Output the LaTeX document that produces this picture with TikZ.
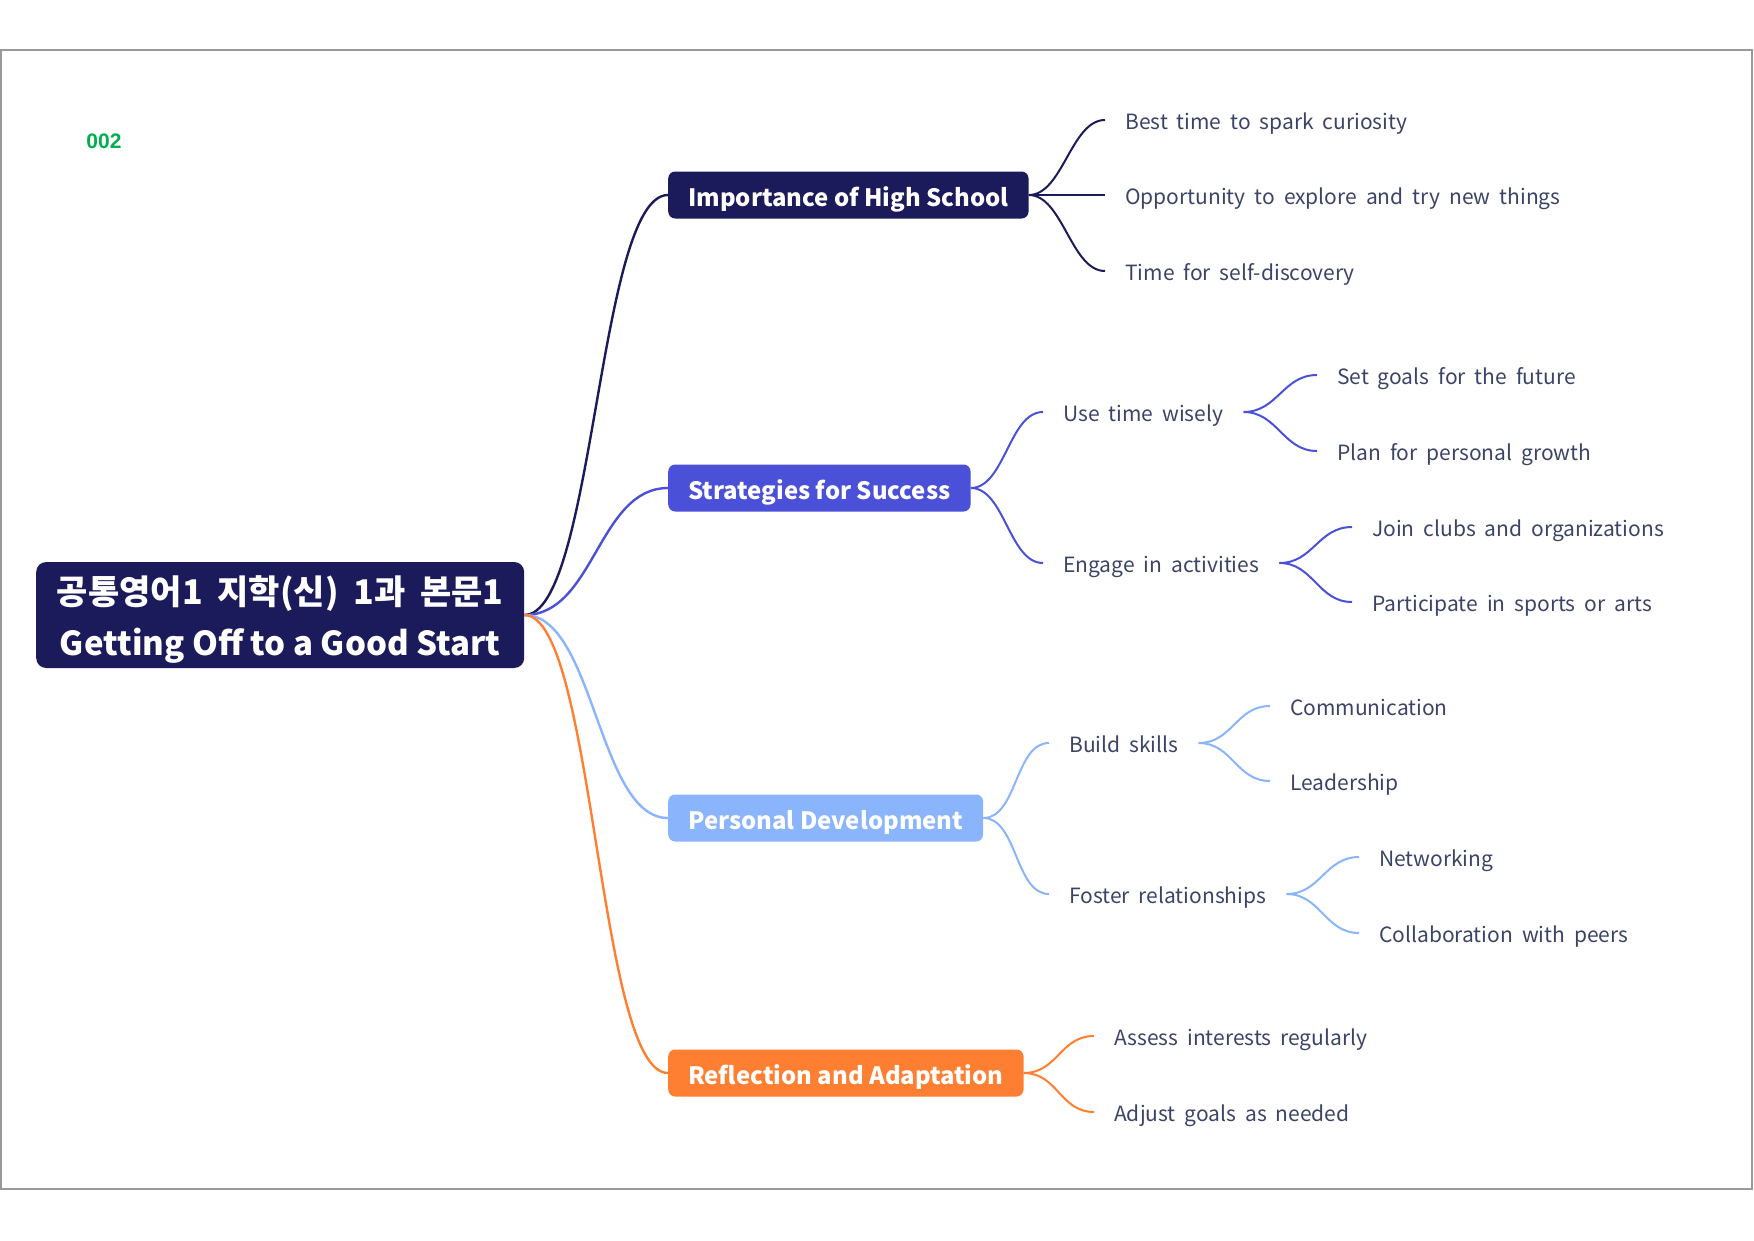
\documentclass[tikz,border=0pt]{standalone}
\usepackage{fontspec}
\setmainfont{Noto Sans CJK KR}
\newfontfamily\leaffont{Noto Sans CJK KR}[WordSpace=1.4]
\newfontfamily\korfont{Noto Sans CJK KR}[WordSpace=1.9]
\newfontfamily\tagfont{Liberation Sans}
\usepackage{xcolor}
\definecolor{navy}{HTML}{1B1A5A}
\definecolor{indigo}{HTML}{4A50D8}
\definecolor{sky}{HTML}{8AB4FC}
\definecolor{tangerine}{HTML}{FF7F32}
\definecolor{slate}{HTML}{3B4466}
\definecolor{taggreen}{HTML}{00B050}

\begin{document}
\begin{tikzpicture}[x=1pt,y=-1pt,
  topic/.style={rounded corners=7pt,text=white,font=\bfseries\fontsize{23.9}{28}\selectfont,
    minimum height=47pt,inner xsep=20pt,text height=22pt,text depth=0pt,anchor=west},
  leaf/.style={text=slate,font=\leaffont\fontsize{21}{24}\selectfont,inner xsep=20pt,inner ysep=0pt,
    text height=19pt,text depth=0pt,anchor=west},
  link/.style={line width=2pt}]
\useasboundingbox (0,0) rectangle (1754,1240);
\draw[gray!80,line width=1.2pt] (1,50) rectangle (1752,1189);
\node[font=\tagfont\bfseries\fontsize{21}{24}\selectfont,text=taggreen] (tag) at (104,141) {002};
% root and main topics
\node[fill=navy,rounded corners=10pt,text=white,font=\bfseries\fontsize{33}{51}\selectfont,
  minimum width=488pt,minimum height=106pt,text height=22pt,text depth=0pt,anchor=west] (root) at (36,615)
  {\begin{tabular}{@{}c@{}}{\korfont\fontsize{34}{51}\selectfont 공통영어1 지학(신) 1과 본문1}\\
   Getting Off to a Good Start\end{tabular}};
\node[topic,fill=navy] (imp) at (668,195) {Importance of High School};
\node[topic,fill=indigo] (str) at (668,488) {Strategies for Success};
\node[topic,fill=sky] (per) at (668,818) {Personal Development};
\node[topic,fill=tangerine] (ref) at (668,1073) {Reflection and Adaptation};
\foreach \b/\c in {imp/navy,str/indigo,per/sky,ref/tangerine}{
  \draw[line width=2.4pt,\c] (root.east) .. controls +(70,0) and +(-70,0) .. (\b.west);}
% sub topics and leaves
\node[leaf] (i1) at (1105,120) {Best time to spark curiosity};
\node[leaf] (i2) at (1105,195) {Opportunity to explore and try new things};
\node[leaf] (i3) at (1105,271) {Time for self-discovery};
\node[leaf] (s1) at (1043,412) {Use time wisely};
\node[leaf] (s2) at (1043,563) {Engage in activities};
\node[leaf] (s11) at (1317,375) {Set goals for the future};
\node[leaf] (s12) at (1317,451) {Plan for personal growth};
\node[leaf] (s21) at (1352,527) {Join clubs and organizations};
\node[leaf] (s22) at (1352,602) {Participate in sports or arts};
\node[leaf] (p1) at (1049,743) {Build skills};
\node[leaf] (p2) at (1049,894) {Foster relationships};
\node[leaf] (p11) at (1270,706) {Communication};
\node[leaf] (p12) at (1270,781) {Leadership};
\node[leaf] (p21) at (1359,857) {Networking};
\node[leaf] (p22) at (1359,933) {Collaboration with peers};
\node[leaf] (r1) at (1094,1036) {Assess interests regularly};
\node[leaf] (r2) at (1094,1112) {Adjust goals as needed};
\foreach \a/\b/\c in {imp/i1/navy,imp/i2/navy,imp/i3/navy,str/s1/indigo,str/s2/indigo,
  s1/s11/indigo,s1/s12/indigo,s2/s21/indigo,s2/s22/indigo,per/p1/sky,per/p2/sky,
  p1/p11/sky,p1/p12/sky,p2/p21/sky,p2/p22/sky,ref/r1/tangerine,ref/r2/tangerine}{
  \draw[link,\c] (\a.east) .. controls +(34,0) and +(-34,0) .. (\b.west);}
\end{tikzpicture}
\end{document}
